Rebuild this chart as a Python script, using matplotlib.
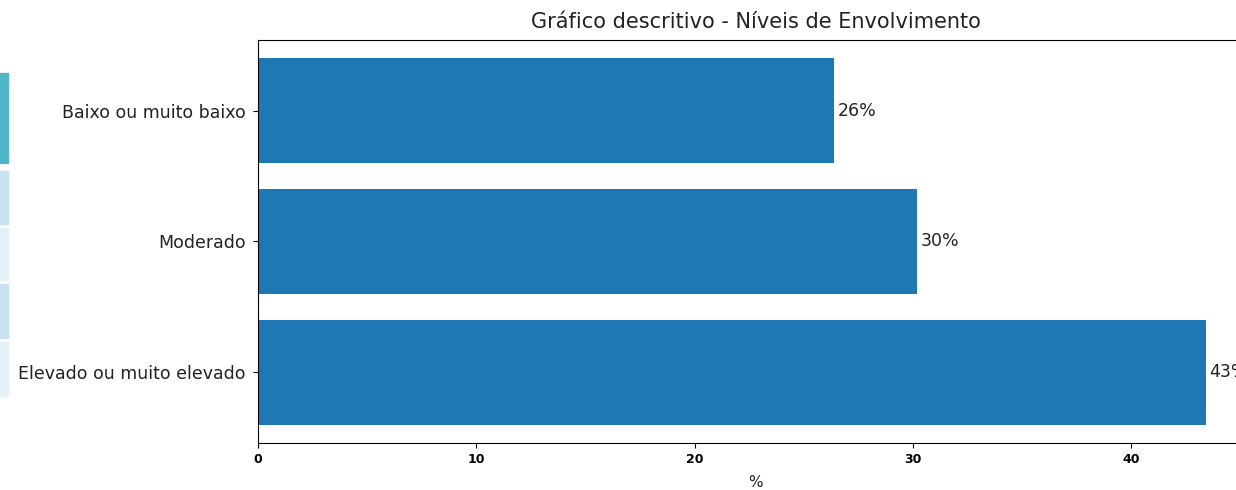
import matplotlib
matplotlib.use('Agg')
from matplotlib import pyplot as plt
from matplotlib.patches import Rectangle

# dados
categorias = ['Elevado ou muito elevado', 'Moderado', 'Baixo ou muito baixo']
percentagens = [43.4, 30.2, 26.4]

fig = plt.figure(figsize=(12.36, 4.9), dpi=100)
# eixo cortado à direita, como no print original
ax = fig.add_axes([0.2087, 0.0959, 0.805, 0.8225])

barras = ax.barh(categorias, percentagens, color='#1f77b4')
for b, v in zip(barras, percentagens):
    ax.text(b.get_width() + 0.15, b.get_y() + b.get_height() / 2, '%d%%' % round(v),
            va='center', ha='left', fontsize=12.5, color='#222222')

ax.set_title('Gráfico descritivo - Níveis de Envolvimento', fontsize=15, color='#222222', pad=8.5)
ax.set_xlabel('%', fontsize=11, labelpad=7, color='#222222')
ax.tick_params(axis='y', labelsize=12.5, labelcolor='#222222', pad=5.5)
ax.tick_params(axis='x', labelsize=9)
for lbl in ax.get_xticklabels():
    lbl.set_fontweight('bold')

# restos da tabela do notebook à esquerda
cores_tab = ['#4fb6c7', '#c8e1f0', '#e4f0f8', '#c8e1f0', '#e4f0f8']
limites = [(73, 163), (171, 224), (228, 280), (284, 338), (342, 396)]
for c, (y0, y1) in zip(cores_tab, limites):
    fig.patches.append(Rectangle((0, 1 - y1 / 490), 8 / 1236, (y1 - y0) / 490,
                                 transform=fig.transFigure, color=c, zorder=0))

fig.savefig('out.png', dpi=100)
